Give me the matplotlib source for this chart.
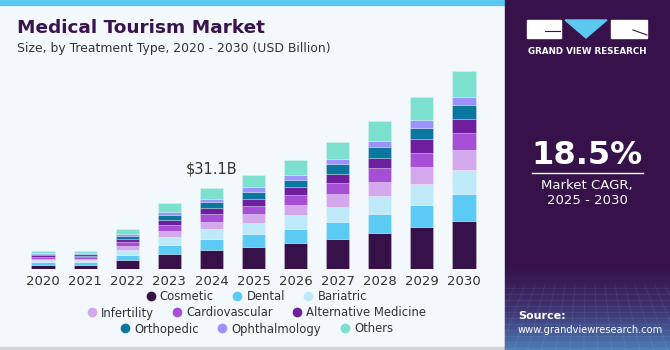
import numpy as np
import matplotlib
matplotlib.use("Agg")
import matplotlib.pyplot as plt
from matplotlib.patches import Rectangle, Polygon
from matplotlib.lines import Line2D
from matplotlib.colors import LinearSegmentedColormap

years = ["2020", "2021", "2022", "2023", "2024", "2025", "2026", "2027", "2028", "2029", "2030"]
segments = ["Cosmetic", "Dental", "Bariatric", "Infertility", "Cardiovascular",
            "Alternative Medicine", "Orthopedic", "Ophthalmology", "Others"]
cosmetic = [1.66, 1.62, 3.58, 6.02, 7.30, 8.58, 9.98, 11.65, 13.70, 16.00, 18.56]
dental = [1.02, 1.00, 1.92, 3.33, 4.22, 4.86, 5.50, 6.53, 7.55, 8.70, 10.37]
bariatric = [0.77, 0.76, 2.05, 3.07, 3.71, 4.35, 5.12, 5.76, 6.66, 7.94, 8.96]
infertility = [0.51, 0.50, 1.41, 2.30, 2.94, 3.46, 4.10, 4.86, 5.63, 6.53, 7.68]
cardiovascular = [0.77, 0.75, 1.54, 2.05, 2.82, 3.07, 3.71, 4.22, 4.99, 5.38, 6.40]
alternative = [0.64, 0.63, 1.02, 2.18, 2.30, 2.69, 2.94, 3.58, 4.10, 5.12, 5.38]
orthopedic = [0.51, 0.50, 1.15, 1.92, 2.30, 2.69, 2.94, 3.46, 3.97, 4.48, 5.38]
ophthalmology = [0.38, 0.37, 0.64, 1.02, 1.15, 1.66, 1.79, 1.92, 2.43, 2.82, 3.07]
others = [0.90, 0.88, 2.18, 3.46, 4.35, 4.61, 5.76, 6.66, 7.55, 8.70, 10.11]
series = [cosmetic, dental, bariatric, infertility, cardiovascular,
          alternative, orthopedic, ophthalmology, others]
colors = ["#37114A", "#5BCBF5", "#BDE9F9", "#D4A8EC", "#A64FD6",
          "#6E1F9E", "#0A789E", "#9B93FB", "#7BE0CD"]
annot_label = "$31.1B"
annot_year = "2024"
cagr = "18.5%"

W, H = 670, 350
fig = plt.figure(figsize=(W / 100, H / 100), dpi=100)
fig.patch.set_facecolor("#F3F8FC")

# background panels
bg = fig.add_axes([0, 0, 1, 1], zorder=-10)
bg.axis("off")
bg.add_patch(Rectangle((0, 0), 505, 350, color="#F3F8FC"))
bg.add_patch(Rectangle((0, 0), 505, 5, color="#5BC8F0"))
bg.add_patch(Rectangle((0, 347), 505, 3, color="#D0D4D8"))
bg.add_patch(Rectangle((505, 0), 165, 350, color="#36114A"))
grad = np.linspace(0, 1, 100).reshape(-1, 1) ** 1.3
cm = LinearSegmentedColormap.from_list("g", ["#36114A", "#3F3A78", "#4A7DB8"])
bg.imshow(grad, extent=(505, 670, 350, 262), cmap=cm, aspect="auto", zorder=1, origin="upper")
for gx in np.arange(505, 700, 10):
    bg.plot([gx, gx + (gx - 588) * 0.4], [285, 350], color="white", alpha=0.07, lw=0.6, zorder=2)
for gy in np.arange(288, 350, 6):
    bg.plot([505, 670], [gy, gy], color="white", alpha=0.07, lw=0.6, zorder=2)
bg.set_xlim(0, W); bg.set_ylim(H, 0)

# logo
bg.add_patch(Rectangle((527, 20), 34, 18, color="white", zorder=3))
bg.add_patch(Polygon([[565, 20], [607, 20], [586, 38]], closed=True, color="#5BC8F0", zorder=3))
bg.add_patch(Rectangle((611, 20), 36, 18, color="white", zorder=3))
bg.plot([545, 560], [31, 31], color="#36114A", lw=0.8, zorder=4)
bg.plot([633, 647], [30, 35], color="#36114A", lw=0.8, zorder=4)
bg.text(587, 51, "GRAND VIEW RESEARCH", color="white", fontsize=6.3, fontweight="bold",
        ha="center", va="center", zorder=4)
bg.text(587, 155, cagr, color="white", fontsize=23, fontweight="bold", ha="center", va="center", zorder=4)
bg.plot([532, 643], [173, 173], color="white", lw=1, zorder=4)
bg.text(587, 185, "Market CAGR,", color="white", fontsize=9.5, ha="center", va="center", zorder=4)
bg.text(587, 201, "2025 - 2030", color="white", fontsize=9.5, ha="center", va="center", zorder=4)
bg.text(518, 316, "Source:", color="white", fontsize=8, fontweight="bold", ha="left", va="center", zorder=4)
bg.text(518, 330, "www.grandviewresearch.com", color="white", fontsize=7.1, ha="left", va="center", zorder=4)

# titles
bg.text(17, 33, "Medical Tourism Market", color="#3A1450", fontsize=13.3, fontweight="heavy",
        ha="left", va="baseline")
bg.text(17, 52, "Size, by Treatment Type, 2020 - 2030 (USD Billion)", color="#333333", fontsize=8.9,
        ha="left", va="baseline")

# bar axes
ymax = 80
ax = fig.add_axes([22 / W, (H - 269.3) / H, 463 / W, 209.3 / H])
ax.set_facecolor("none")
x = np.arange(len(years))
bottom = np.zeros(len(years))
for name, vals, c in zip(segments, series, colors):
    ax.bar(x, vals, bottom=bottom, width=0.55, color=c, edgecolor=(1, 1, 1, 0.35), linewidth=0.5, label=name)
    bottom += np.array(vals)
ax.set_xlim(-0.5, len(years) - 0.5)
ax.set_ylim(0, ymax)
ax.set_xticks(x)
ax.set_xticklabels(years, fontsize=9.5, color="#333333")
ax.tick_params(axis="x", length=0, pad=4)
ax.set_yticks([])
for s in ax.spines.values():
    s.set_visible(False)
i = years.index(annot_year)
ax.text(x[i], bottom[i] + 4.5, annot_label, ha="center", va="bottom", fontsize=10.5, color="#333333")

# legend rows
rows = [segments[0:3], segments[3:6], segments[6:9]]
ys = [297, 313, 329]
for r, yy in zip(rows, ys):
    handles = [Line2D([0], [0], marker="o", ls="", markersize=7,
                      markerfacecolor=colors[segments.index(n)], markeredgewidth=0) for n in r]
    leg = fig.legend(handles, r, loc="center", bbox_to_anchor=(256 / W, 1 - yy / H), ncol=3,
                     frameon=False, fontsize=8.4, handletextpad=0.3, columnspacing=1.5,
                     handlelength=1.0, borderpad=0)
    for t in leg.get_texts():
        t.set_color("#333333")

fig.savefig("out.png", dpi=100, facecolor=fig.get_facecolor())
